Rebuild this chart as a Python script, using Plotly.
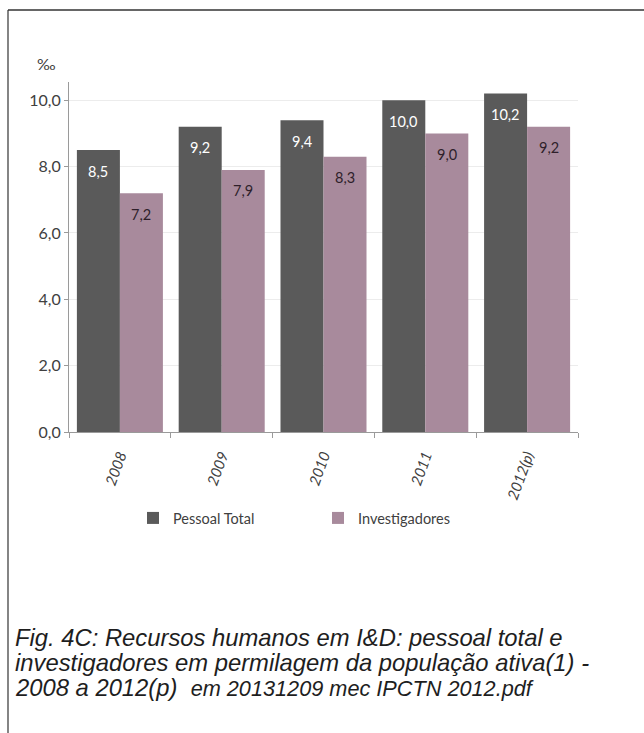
import plotly.graph_objects as go

# Recursos humanos em I&D, em permilagem da população ativa
anos = ["2008", "2009", "2010", "2011", "2012(p)"]
pessoal_total = [8.5, 9.2, 9.4, 10.0, 10.2]
investigadores = [7.2, 7.9, 8.3, 9.0, 9.2]
y_ticks = [0, 2, 4, 6, 8, 10]

legenda_linhas = [
    "Fig. 4C: Recursos humanos em I&D: pessoal total e",
    "investigadores em permilagem da população ativa(1) -",
    "2008 a 2012(p)  <span style='font-size:21.7px'>em 20131209 mec IPCTN 2012.pdf</span>",
]

COR_TOTAL = "#5a5a5a"
COR_INV = "#a88a9c"
FONTE = "Lato, 'Open Sans', sans-serif"
FONTE_LEG = "'Liberation Sans', Arial, sans-serif"

W, H = 644, 733
ML, MR, MT, MB = 69, 66, 82, 301
PW, PH = W - ML - MR, H - MT - MB
BARGAP = 0.155
# half of one bar's width in pixels (two bars per category)
MEIA_BARRA = PW / len(anos) * (1 - BARGAP) / 4


def fmt(v):
    return f"{v:.1f}".replace(".", ",")


def px_x(px):
    return (px - ML) / PW


def px_y(py):
    return (H - MB - py) / PH


fig = go.Figure()
fig.add_trace(go.Bar(
    x=anos, y=pessoal_total, name="Pessoal Total",
    marker=dict(color=COR_TOTAL, line=dict(width=0)),
))
fig.add_trace(go.Bar(
    x=anos, y=investigadores, name="Investigadores",
    marker=dict(color=COR_INV, line=dict(width=0)),
))

anotacoes = []
# value labels inside the top of each bar (x given as category index)
for serie, desloc, cor in ((pessoal_total, -MEIA_BARRA, "white"),
                           (investigadores, MEIA_BARRA, "#2e1f2a")):
    for i, v in enumerate(serie):
        anotacoes.append(dict(
            x=i, y=v, xref="x", yref="y", text=fmt(v), showarrow=False,
            xshift=desloc, yshift=-21, xanchor="center", yanchor="middle",
            font=dict(size=14.5, color=cor, family=FONTE),
        ))

anotacoes.append(dict(
    text="‰", xref="paper", yref="paper", x=px_x(46), y=px_y(63),
    xanchor="center", yanchor="middle", showarrow=False,
    font=dict(size=16, color="#404040", family=FONTE),
))

for i, linha in enumerate(legenda_linhas):
    anotacoes.append(dict(
        text=linha, xref="paper", yref="paper", x=px_x(13), y=px_y(637 + 25 * i),
        xanchor="left", yanchor="middle", align="left", showarrow=False,
        font=dict(size=23.8, color="#1e1e1e", family=FONTE_LEG, style="italic"),
    ))

fig.update_layout(
    width=W, height=H,
    margin=dict(l=ML, r=MR, t=MT, b=MB, pad=0),
    paper_bgcolor="white", plot_bgcolor="white",
    barmode="group", bargap=BARGAP, bargroupgap=0,
    separators=",.",
    font=dict(family=FONTE, color="#404040", size=14),
    showlegend=True,
    legend=dict(
        orientation="h", x=px_x(133), xanchor="left", y=px_y(502), yanchor="top",
        font=dict(size=14.5, color="#404040", family=FONTE),
        itemwidth=30, entrywidth=140, entrywidthmode="pixels",
        bgcolor="rgba(0,0,0,0)",
    ),
    xaxis=dict(
        type="category", categoryorder="array", categoryarray=anos,
        range=[-0.5, len(anos) - 0.5],
        tickangle=-70, tickson="boundaries",
        ticks="outside", ticklen=5, tickcolor="#9a9a9a",
        ticklabelstandoff=8,
        showline=True, linecolor="#9a9a9a", linewidth=1,
        tickfont=dict(size=15, color="#404040", family=FONTE, style="italic"),
        showgrid=False,
    ),
    yaxis=dict(
        range=[0, 10.55], tickvals=y_ticks, tickformat=".1f",
        ticks="outside", ticklen=4, tickcolor="#9a9a9a",
        showline=True, linecolor="#9a9a9a", linewidth=1,
        showgrid=True, gridcolor="#ececec", gridwidth=1,
        zeroline=False,
        tickfont=dict(size=16, color="#404040", family=FONTE),
    ),
    annotations=anotacoes,
    shapes=[
        dict(type="line", xref="paper", yref="paper",
             x0=px_x(8), x1=px_x(W + 2), y0=px_y(10), y1=px_y(10),
             line=dict(color="#333333", width=1.5)),
        dict(type="line", xref="paper", yref="paper",
             x0=px_x(8), x1=px_x(8), y0=px_y(10), y1=px_y(H + 2),
             line=dict(color="#333333", width=1.2)),
    ],
)

fig.write_html("out.html")
